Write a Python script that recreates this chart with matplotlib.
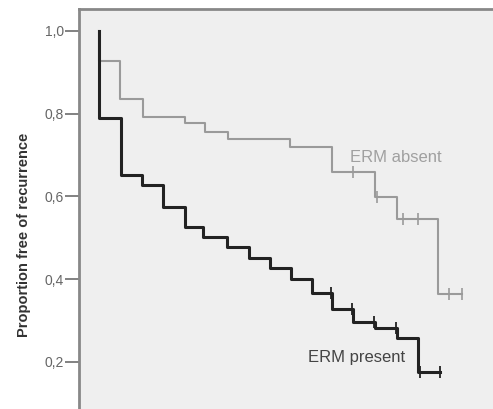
import numpy as np
import matplotlib
matplotlib.use("Agg")
import matplotlib.pyplot as plt

plt.rcParams['font.family'] = ['Liberation Sans', 'DejaVu Sans']

# Kaplan-Meier style data (time in months)
absent_times = [0, 5.25, 11, 21.5, 26.5, 32.25, 47.75, 58.25, 69, 74.5, 84.75]
absent_surv = [0.927, 0.836, 0.792, 0.777, 0.756, 0.739, 0.719, 0.659, 0.599, 0.545, 0.364]
absent_end = 90.75
absent_censor = [63.5, 69.5, 76.0, 79.75, 87.5, 90.75]

present_times = [0, 5.5, 10.75, 16, 21.5, 26, 32, 37.5, 42.75, 48, 53.25, 58.25, 63.5, 69, 74.5, 79.75]
present_surv = [0.790, 0.652, 0.628, 0.574, 0.526, 0.502, 0.478, 0.451, 0.427, 0.400,
                0.366, 0.328, 0.296, 0.282, 0.258, 0.175]
present_end = 85.25
present_censor = [58.0, 63.3, 68.8, 74.3, 80.3, 85.25]

yticks = [0.2, 0.4, 0.6, 0.8, 1.0]
ytick_labels = ["0,2", "0,4", "0,6", "0,8", "1,0"]


def step_xy(times, surv, end):
    x = [times[0]] + list(times) + [end]
    y = [1.0] + list(surv) + [surv[-1]]
    return x, y


def surv_at(times, surv, t):
    val = 1.0
    for ti, si in zip(times, surv):
        if ti <= t:
            val = si
    return val


fig = plt.figure(figsize=(4.93, 4.09), dpi=100)
# axes runs past the bottom and right edge, like the cropped original
ax = fig.add_axes([79 / 493, 1 - 444.5 / 409, 440 / 493, 435.5 / 409])
ax.set_facecolor('#efefef')

gx, gy = step_xy(absent_times, absent_surv, absent_end)
ax.step(gx, gy, where='post', color='#9a9a9a', lw=1.5)
ax.plot(absent_censor, [surv_at(absent_times, absent_surv, t) for t in absent_censor],
        ls='none', marker='|', ms=9, mew=1.2, color='#9a9a9a')

dx, dy = step_xy(present_times, present_surv, present_end)
ax.step(dx, dy, where='post', color='#222222', lw=2.2)
ax.plot(present_censor, [surv_at(present_times, present_surv, t) for t in present_censor],
        ls='none', marker='|', ms=9, mew=1.3, color='#222222')

ax.text(62.75, 0.695, "ERM absent", color='#a0a0a0', fontsize=12, ha='left', va='center')
ax.text(52.25, 0.21, "ERM present", color='#444444', fontsize=12, ha='left', va='center')

ax.set_xlim(-5, 105)
ax.set_ylim(0, 1.0532)
ax.set_xticks([])
ax.set_yticks(yticks)
ax.set_yticklabels(ytick_labels)
ax.tick_params(axis='y', length=10, width=1.3, color='#777777', labelcolor='#666666',
               labelsize=10, pad=1)
for side in ['left', 'top']:
    ax.spines[side].set_color('#888888')
    ax.spines[side].set_linewidth(2)
for side in ['right', 'bottom']:
    ax.spines[side].set_visible(False)

fig.text(24 / 493, 1 - 235 / 409, "Proportion free of recurrence", rotation=90,
         ha='center', va='center', fontsize=10.5, fontweight='bold', color='#333333')

fig.savefig('out.png', dpi=100)
